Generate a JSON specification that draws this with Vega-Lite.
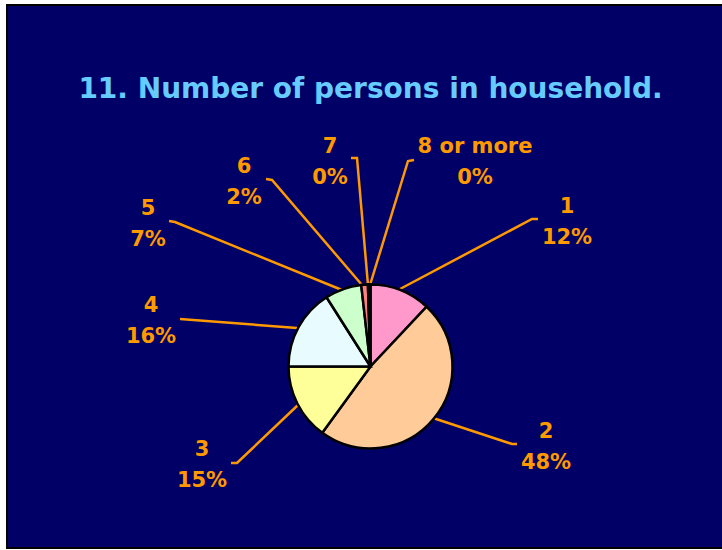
{
  "$schema": "https://vega.github.io/schema/vega-lite/v6.json",
  "width": 717,
  "height": 543,
  "autosize": {"type": "none"},
  "padding": {"left": 7, "top": 5, "right": 0, "bottom": 2},
  "background": "#ffffff",
  "config": {
    "view": {"fill": "#000066", "stroke": "#000000", "strokeWidth": 2}
  },
  "title": {
    "text": "11. Number of persons in household.",
    "font": "DejaVu Sans",
    "fontSize": 28,
    "fontWeight": "bold",
    "color": "#66CCFF",
    "anchor": "middle",
    "frame": "group",
    "baseline": "alphabetic",
    "offset": 0,
    "dy": 121,
    "dx": 5
  },
  "datasets": {
    "slices": [
      {"idx": 1, "cat": "1", "value": 12, "pct": 12, "lx": 196.5, "ly": 153.5},
      {"idx": 2, "cat": "2", "value": 48, "pct": 48, "lx": 175.5, "ly": -71.5},
      {"idx": 3, "cat": "3", "value": 15, "pct": 15, "lx": -168.5, "ly": -89.5},
      {"idx": 4, "cat": "4", "value": 16, "pct": 16, "lx": -219.5, "ly": 54.5},
      {"idx": 5, "cat": "5", "value": 7.2, "pct": 7, "lx": -222.5, "ly": 151.5},
      {"idx": 6, "cat": "6", "value": 1.3, "pct": 2, "lx": -126.5, "ly": 193.5},
      {"idx": 7, "cat": "7", "value": 0.3, "pct": 0, "lx": -40.5, "ly": 213.5},
      {"idx": 8, "cat": "8 or more", "value": 0.2, "pct": 0, "lx": 104.5, "ly": 213.5}
    ],
    "leaders": [
      {"cat": "1", "seq": 1, "px": 29.5, "py": 77.5},
      {"cat": "1", "seq": 2, "px": 161.5, "py": 147.5},
      {"cat": "1", "seq": 3, "px": 167.5, "py": 147.5},
      {"cat": "2", "seq": 1, "px": 62.5, "py": -51.5},
      {"cat": "2", "seq": 2, "px": 141.5, "py": -77.5},
      {"cat": "2", "seq": 3, "px": 146.5, "py": -77.5},
      {"cat": "3", "seq": 1, "px": -72.5, "py": -38.5},
      {"cat": "3", "seq": 2, "px": -133.5, "py": -96.5},
      {"cat": "3", "seq": 3, "px": -139.5, "py": -96.5},
      {"cat": "4", "seq": 1, "px": -73.5, "py": 38.5},
      {"cat": "4", "seq": 2, "px": -190.5, "py": 47.5},
      {"cat": "5", "seq": 1, "px": -28.5, "py": 76.5},
      {"cat": "5", "seq": 2, "px": -195.5, "py": 144.5},
      {"cat": "5", "seq": 3, "px": -201.5, "py": 145.5},
      {"cat": "6", "seq": 1, "px": -8.5, "py": 81.5},
      {"cat": "6", "seq": 2, "px": -98.5, "py": 186.5},
      {"cat": "6", "seq": 3, "px": -104.5, "py": 187.5},
      {"cat": "7", "seq": 1, "px": -2.5, "py": 81.5},
      {"cat": "7", "seq": 2, "px": -13.5, "py": 208.5},
      {"cat": "7", "seq": 3, "px": -19.5, "py": 208.5},
      {"cat": "8 or more", "seq": 1, "px": -0.5, "py": 81.5},
      {"cat": "8 or more", "seq": 2, "px": 37.5, "py": 205.5},
      {"cat": "8 or more", "seq": 3, "px": 43.5, "py": 206.5}
    ]
  },
  "layer": [
    {
      "data": {"name": "leaders"},
      "mark": {"type": "line", "color": "#FF9900", "strokeWidth": 2.5},
      "encoding": {
        "x": {"field": "px", "type": "quantitative", "scale": {"domain": [-363.5, 353.5], "nice": false, "zero": false}, "axis": null},
        "y": {"field": "py", "type": "quantitative", "scale": {"domain": [-181.5, 361.5], "nice": false, "zero": false}, "axis": null},
        "detail": {"field": "cat", "type": "nominal"},
        "order": {"field": "seq", "type": "quantitative"}
      }
    },
    {
      "data": {"name": "slices"},
      "mark": {"type": "arc", "outerRadius": 82, "stroke": "#000000", "strokeWidth": 2.5},
      "encoding": {
        "x": {"datum": 0, "type": "quantitative"},
        "y": {"datum": 0, "type": "quantitative"},
        "theta": {"field": "value", "type": "quantitative", "stack": true},
        "order": {"field": "idx", "type": "quantitative"},
        "color": {
          "field": "cat",
          "type": "nominal",
          "scale": {
            "domain": ["1", "2", "3", "4", "5", "6", "7", "8 or more"],
            "range": ["#FF99CC", "#FFCC99", "#FFFF99", "#E8FBFF", "#CCFFCC", "#FF8080", "#333399", "#000000"]
          },
          "legend": null
        }
      }
    },
    {
      "data": {"name": "slices"},
      "transform": [
        {"calculate": "datum.cat + '\\n' + datum.pct + '%'", "as": "label"}
      ],
      "mark": {
        "type": "text",
        "font": "DejaVu Sans",
        "fontSize": 21,
        "fontWeight": "bold",
        "color": "#FF9900",
        "align": "center",
        "baseline": "alphabetic",
        "lineBreak": "\n",
        "lineHeight": 31
      },
      "encoding": {
        "x": {"field": "lx", "type": "quantitative"},
        "y": {"field": "ly", "type": "quantitative"},
        "text": {"field": "label", "type": "nominal"}
      }
    }
  ]
}
